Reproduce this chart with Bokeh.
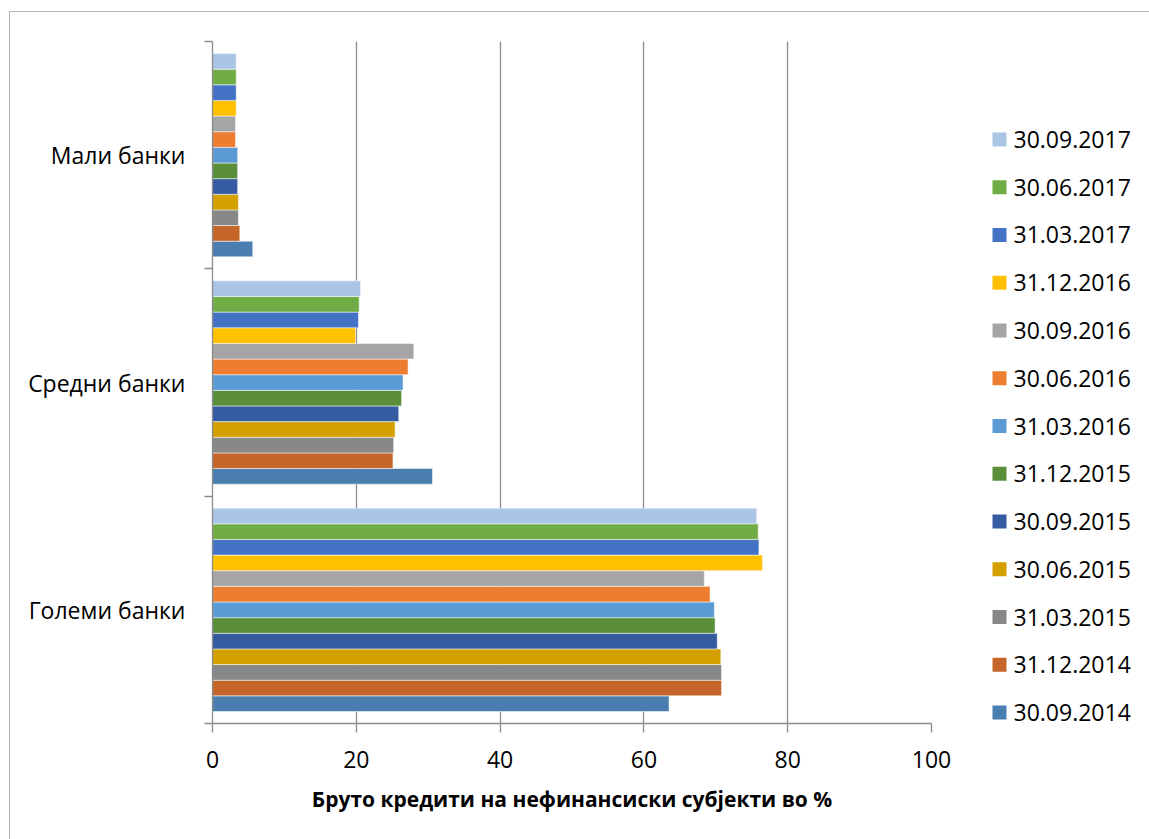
from bokeh.plotting import figure
from bokeh.layouts import row
from bokeh.models import Range1d, FixedTicker, ColumnDataSource
from bokeh.core.properties import value
from bokeh.transform import dodge
from bokeh.embed import file_html
from bokeh.resources import INLINE

# Bank groups, bottom to top on the category axis
groups = ["Големи банки", "Средни банки", "Мали банки"]

# Reporting dates, oldest first (drawn bottom to top inside each group)
dates = ["30.09.2014", "31.12.2014", "31.03.2015", "30.06.2015", "30.09.2015",
         "31.12.2015", "31.03.2016", "30.06.2016", "30.09.2016", "31.12.2016",
         "31.03.2017", "30.06.2017", "30.09.2017"]

# Share of gross loans to non-financial entities, %
large_banks = [63.5, 70.8, 70.8, 70.7, 70.2, 69.9, 69.8, 69.2, 68.4, 76.5, 76.0, 75.9, 75.7]
medium_banks = [30.6, 25.1, 25.2, 25.4, 25.9, 26.3, 26.5, 27.2, 28.0, 19.9, 20.3, 20.4, 20.6]
small_banks = [5.6, 3.8, 3.6, 3.6, 3.5, 3.5, 3.5, 3.2, 3.2, 3.3, 3.3, 3.3, 3.3]

x_ticks = [0, 20, 40, 60, 80, 100]

colors = ["#4A7EB0", "#C4662A", "#888888", "#D3A000", "#355CA0", "#5B8E3B",
          "#5B9BD5", "#ED7D31", "#A5A5A5", "#FFC000", "#4472C4", "#70AD47",
          "#ABC5E6"]

FONT = "Open Sans"
GREY = "#8c8c8c"
FRAME = "1px solid #b4b4b4"
bar_h = 0.0688

# ---- main bar chart ----
p = figure(width=951, height=828, output_backend="svg", toolbar_location=None,
           x_range=Range1d(0, 100), y_range=Range1d(0, len(groups)),
           min_border_left=202, min_border_right=30, min_border_top=29,
           min_border_bottom=117)
p.margin = (11, 0, 0, 9)
p.styles = {"border-top": FRAME, "border-left": FRAME}
p.outline_line_color = None
p.background_fill_color = "white"
p.border_fill_color = "white"

centers = [i + 0.5 for i in range(len(groups))]
for i, c in enumerate(colors):
    src = ColumnDataSource(dict(y=centers,
                                v=[large_banks[i], medium_banks[i], small_banks[i]]))
    p.hbar(y=dodge("y", (i - (len(dates) - 1) / 2) * bar_h, range=p.y_range),
           right="v", left=0, height=bar_h, source=src,
           fill_color=c, line_color="white", line_alpha=0.5, line_width=1)

# x axis
p.xaxis.ticker = FixedTicker(ticks=x_ticks)
p.xaxis.axis_label = "Бруто кредити на нефинансиски субјекти во %"
p.xaxis.axis_label_text_font = FONT
p.xaxis.axis_label_text_font_style = "bold"
p.xaxis.axis_label_text_font_size = "21px"
p.xaxis.axis_label_text_color = "black"
p.xaxis.axis_label_standoff = 14
p.xaxis.major_label_text_font = FONT
p.xaxis.major_label_text_font_size = "23px"
p.xaxis.major_label_text_color = "black"
p.xaxis.major_label_standoff = 18
p.xaxis.axis_line_color = GREY
p.xaxis.axis_line_width = 1.3
p.xaxis.major_tick_line_color = GREY
p.xaxis.major_tick_line_width = 1.3
p.xaxis.major_tick_out = 9
p.xaxis.major_tick_in = 0
p.xaxis.minor_tick_line_color = None

# category axis: labels at group centres, ticks on group boundaries
p.yaxis.ticker = FixedTicker(ticks=centers, minor_ticks=list(range(len(groups) + 1)))
p.yaxis.major_label_overrides = {c: g for c, g in zip(centers, groups)}
p.yaxis.major_label_text_font = FONT
p.yaxis.major_label_text_font_size = "23px"
p.yaxis.major_label_text_color = "black"
p.yaxis.major_label_standoff = 19
p.yaxis.major_tick_line_color = None
p.yaxis.major_tick_out = 0
p.yaxis.major_tick_in = 0
p.yaxis.minor_tick_line_color = GREY
p.yaxis.minor_tick_line_width = 1.3
p.yaxis.minor_tick_out = 8
p.yaxis.minor_tick_in = 0
p.yaxis.axis_line_color = GREY
p.yaxis.axis_line_width = 1.3

p.xgrid.ticker = FixedTicker(ticks=x_ticks)
p.xgrid.grid_line_color = GREY
p.xgrid.grid_line_width = 1.3
p.ygrid.grid_line_color = None

# ---- legend panel: one swatch and label per date, newest on top ----
lg = figure(width=189, height=828, output_backend="svg", toolbar_location=None,
            x_range=Range1d(0, 189), y_range=Range1d(-0.23, 14.052),
            x_axis_location=None, y_axis_location=None,
            min_border_left=0, min_border_right=0, min_border_top=29,
            min_border_bottom=117)
lg.margin = (11, 0, 0, 0)
lg.styles = {"border-top": FRAME}
lg.outline_line_color = None
lg.grid.grid_line_color = None
lg.background_fill_color = "white"
lg.border_fill_color = "white"

lsrc = ColumnDataSource(dict(pos=list(range(len(dates))), d=dates, c=colors))
lg.rect(x=39, y="pos", width=14, height=14, width_units="screen",
        height_units="screen", fill_color="c", line_color=None, source=lsrc)
lg.text(x=53, y="pos", text="d", source=lsrc, text_font=value(FONT),
        text_font_size="23px", text_color="black", text_baseline="middle",
        text_align="left")

layout = row(p, lg)
open("out.html", "w").write(file_html(layout, INLINE))
